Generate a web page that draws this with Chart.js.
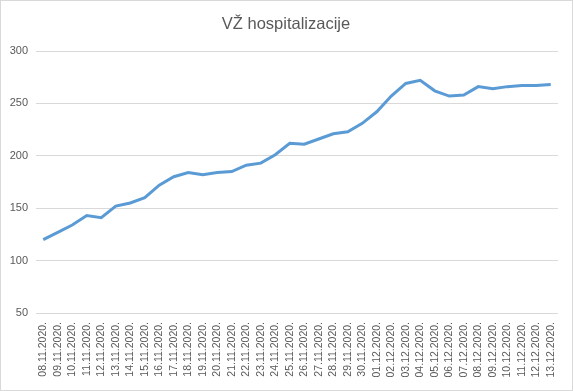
<!DOCTYPE html>
<html>
<head>
<meta charset="utf-8">
<script src="https://cdn.jsdelivr.net/npm/chart.js@4"></script>
<style>
html,body{margin:0;padding:0;background:#fff;}
#wrap{position:relative;width:573px;height:391px;}
#c{position:absolute;left:0;top:0;}
#frame{position:absolute;left:0;top:0;width:571px;height:389px;border:1px solid #d9d9d9;pointer-events:none;}
</style>
</head>
<body>
<div id="wrap"><canvas id="c" width="573" height="391"></canvas><div id="frame"></div></div>
<script>
const titleText = "VŽ hospitalizacije";
const categories = ["08.11.2020.","09.11.2020.","10.11.2020.","11.11.2020.","12.11.2020.","13.11.2020.","14.11.2020.","15.11.2020.","16.11.2020.","17.11.2020.","18.11.2020.","19.11.2020.","20.11.2020.","21.11.2020.","22.11.2020.","23.11.2020.","24.11.2020.","25.11.2020.","26.11.2020.","27.11.2020.","28.11.2020.","29.11.2020.","30.11.2020.","01.12.2020.","02.12.2020.","03.12.2020.","04.12.2020.","05.12.2020.","06.12.2020.","07.12.2020.","08.12.2020.","09.12.2020.","10.12.2020.","11.12.2020.","12.12.2020.","13.12.2020."];
const hospitalizacije = [120,127,134,143,141,152,155,160,172,180,184,182,184,185,191,193,201,212,211,216,221,223,231,242,257,269,272,262,257,258,266,264,266,267,267,268];
const yMin = 50, yMax = 300, yStep = 50;

const textColor = "#595959";
const gridColor = "#d9d9d9";
const fontFamily = "'Liberation Sans', Arial, sans-serif";

const titlePlugin = {
  id: "excelTitle",
  afterDraw(chart) {
    const ctx = chart.ctx;
    ctx.save();
    ctx.fillStyle = textColor;
    ctx.font = "16.5px " + fontFamily;
    ctx.textAlign = "center";
    ctx.textBaseline = "alphabetic";
    ctx.fillText(titleText, 286, 29);
    ctx.restore();
  }
};

new Chart(document.getElementById("c"), {
  type: "line",
  data: {
    labels: categories,
    datasets: [{
      label: titleText,
      data: hospitalizacije,
      borderColor: "#5b9bd5",
      backgroundColor: "#5b9bd5",
      borderWidth: 3,
      pointRadius: 0,
      tension: 0,
      fill: false
    }]
  },
  plugins: [titlePlugin],
  options: {
    responsive: false,
    animation: false,
    layout: { padding: { left: 0, right: 15, top: 51, bottom: 0 } },
    plugins: {
      legend: { display: false },
      tooltip: { enabled: false },
      title: { display: false }
    },
    scales: {
      x: {
        offset: true,
        grid: { display: false, drawTicks: false },
        border: { display: false },
        ticks: {
          autoSkip: false,
          maxRotation: 90,
          minRotation: 90,
          color: textColor,
          font: { family: fontFamily, size: 10.5 },
          padding: 9
        },
        afterFit: function(s){ s.height = 78; }
      },
      y: {
        min: yMin,
        max: yMax,
        grid: { color: gridColor, lineWidth: 1, drawTicks: false },
        border: { display: false },
        ticks: {
          stepSize: yStep,
          color: textColor,
          font: { family: fontFamily, size: 11 },
          padding: 8
        },
        afterFit: function(s){ s.width = 36; }
      }
    }
  }
});
</script>
</body>
</html>
